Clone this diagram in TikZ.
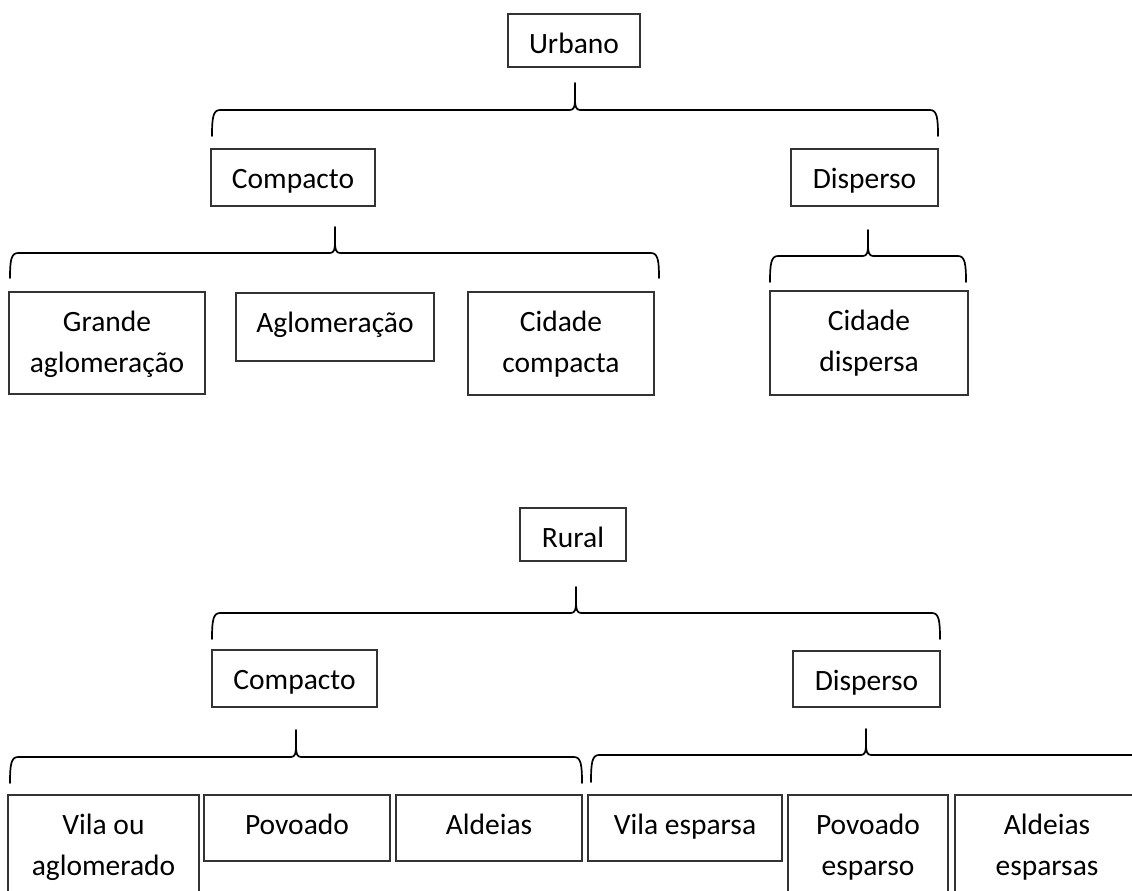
\documentclass[tikz,border=0pt]{standalone}
\usepackage{fontspec}
\setmainfont{Carlito}
\tikzset{
  box/.style={draw=black!80, line width=1.1pt, rectangle, inner sep=0pt, outer sep=0pt},
  lbl/.style={font=\fontsize{29.5}{41}\selectfont, inner sep=0pt, outer sep=0pt, align=center, text=black},
  brace/.style={draw=black, line width=1.7pt, line join=round, line cap=round}
}
\newcommand\mybox[6]{%
  \node[box, minimum width={#4-#2}, minimum height={#5-#3}] (#1) at ({(#2+#4)/2},{(#3+#5)/2}) {};
  \node[lbl, anchor=north] (#1-t) at ({(#2+#4)/2},#3) {\rule{0pt}{39pt}#6};}
% name, xl, xr, xs, yh (horizontal), yt (spike top), yb (ends)
\newcommand\mybrace[7]{%
  \coordinate (#1-l) at (#2,#7);
  \coordinate (#1-r) at (#3,#7);
  \coordinate (#1-s) at (#4,#6);
  \draw[brace] (#1-l) .. controls (#2,#5+8) and (#2+1,#5) .. (#2+8,#5)
    -- (#4-5,#5) .. controls (#4-1,#5) and (#4,#5-4) .. (#4,#5-10) -- (#1-s)
    -- (#4,#5-10) .. controls (#4,#5-4) and (#4+1,#5) .. (#4+5,#5)
    -- (#3-8,#5) .. controls (#3-1,#5) and (#3,#5+8) .. (#1-r);}
\begin{document}
\begin{tikzpicture}[x=1pt,y=-1pt]
\useasboundingbox (0,0) rectangle (1132,891);
\clip (0,0) rectangle (1132,891);
% ---------- Urbano ----------
\mybox{urb}{508}{14}{640}{67}{Urbano}
\mybrace{b1}{212}{938}{575}{110}{83}{136}
\mybox{ucomp}{211}{149}{375}{206}{Compacto}
\mybox{udisp}{791}{149}{938}{206}{Disperso}
\mybrace{b2}{10}{659}{335}{253}{227}{278}
\mybrace{b3}{770}{966}{868}{256}{230}{282}
\mybox{grande}{9}{292}{205}{394}{Grande\\aglomeração}
\mybox{aglom}{236}{293}{434}{361}{Aglomeração}
\mybox{ccomp}{468}{292}{654}{395}{Cidade\\compacta}
\mybox{cdisp}{770}{291}{968}{395}{Cidade\\dispersa}
% ---------- Rural ----------
\mybox{rur}{520}{508}{626}{561}{Rural}
\mybrace{b4}{212}{940}{576}{613}{587}{639}
\mybox{rcomp}{212}{650}{377}{707}{Compacto}
\mybox{rdisp}{793}{651}{940}{707}{Disperso}
\mybrace{b5}{10}{582}{296}{757}{730}{783}
\mybrace{b6}{591}{1141}{866}{755}{729}{782}
\mybox{vila}{8}{795}{199}{930}{Vila ou\\aglomerado}
\mybox{povo}{204}{795}{390}{861}{Povoado}
\mybox{alde}{396}{795}{582}{861}{Aldeias}
\mybox{vesp}{588}{795}{782}{861}{Vila esparsa}
\mybox{pesp}{788}{795}{948}{930}{Povoado\\esparso}
\mybox{aesp}{955}{795}{1139}{930}{Aldeias\\esparsas}
\end{tikzpicture}
\end{document}
